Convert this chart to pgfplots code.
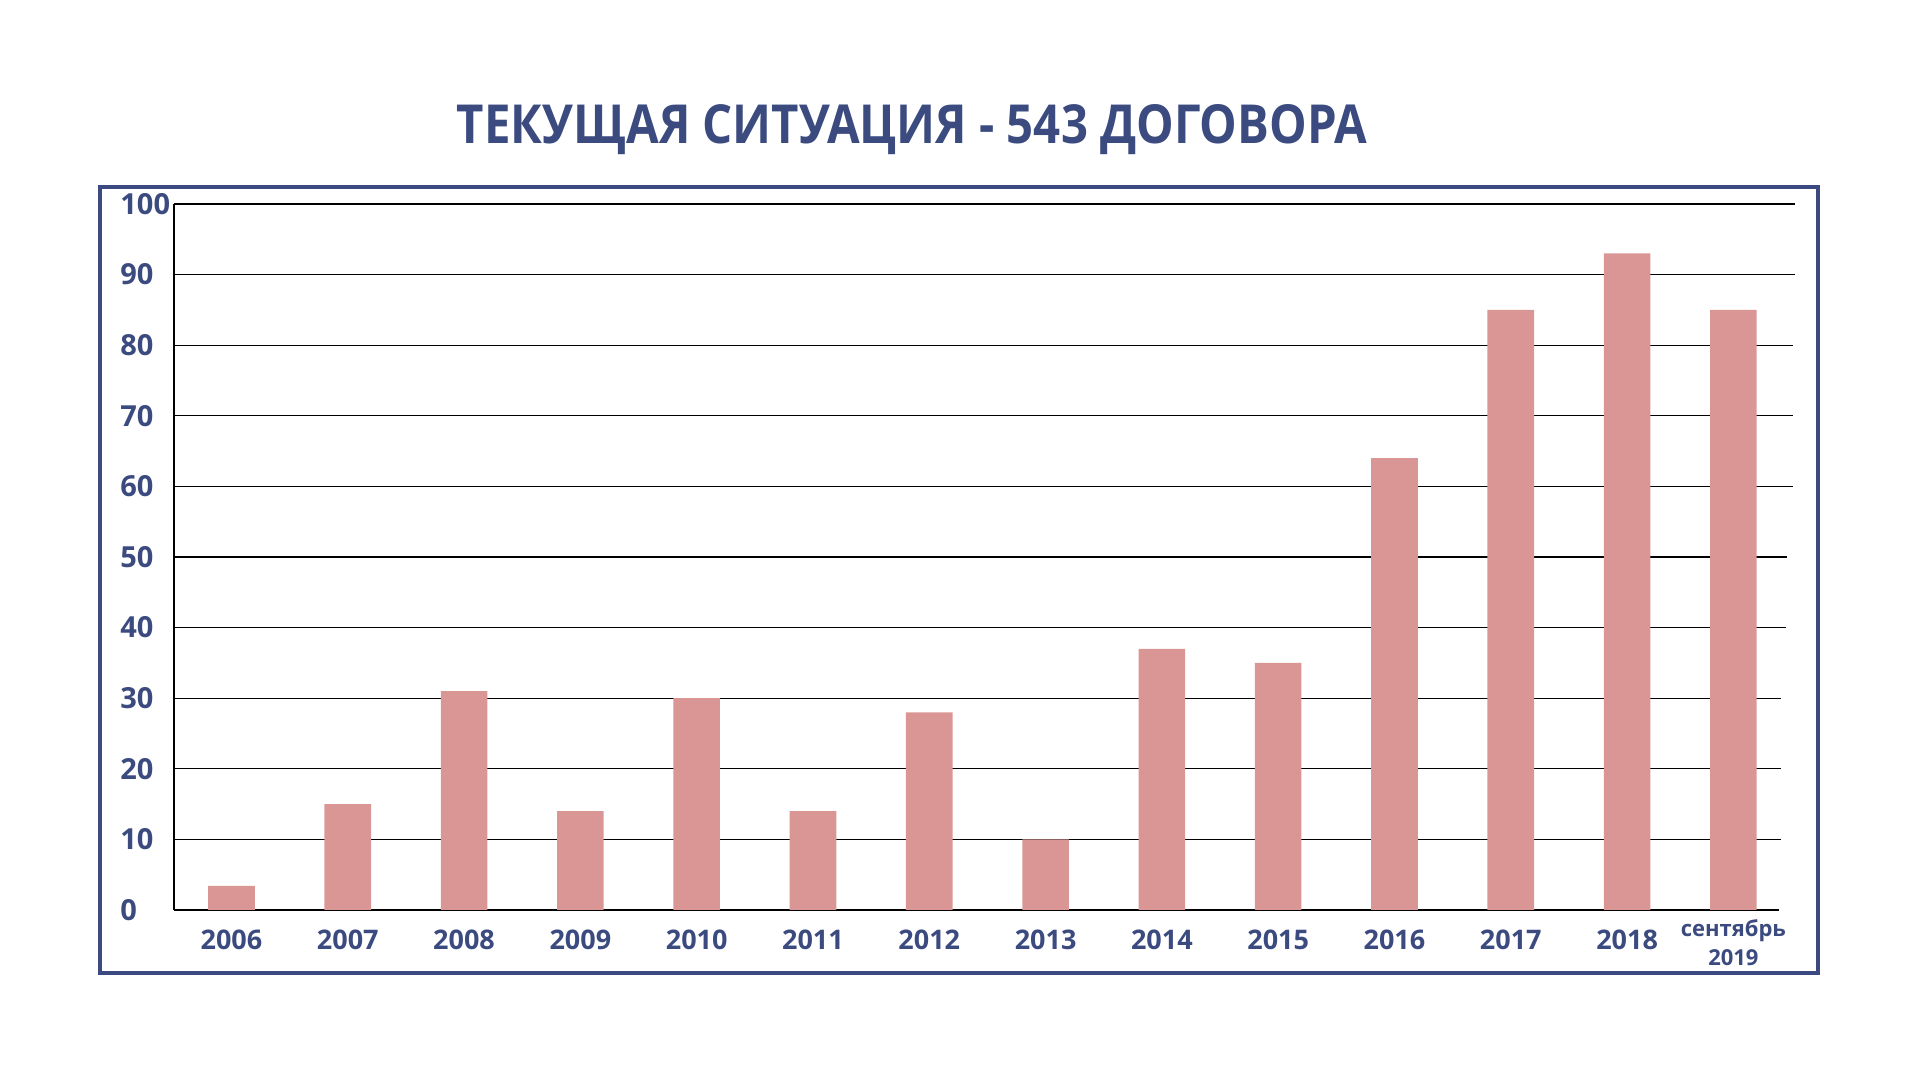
\documentclass[border=0pt]{standalone}
\usepackage{pgfplots}
\pgfplotsset{compat=1.18}
\usepackage{fontspec}
\setmainfont{Open Sans}
\definecolor{navy}{RGB}{59,74,127}
\definecolor{barpink}{RGB}{217,150,148}
\begin{document}
\begin{tikzpicture}[x=1pt,y=1pt]
\path[use as bounding box] (0,0) rectangle (960,540);
\draw[navy, line width=2pt] (50,53.5) rectangle (909,446.5);
\node[anchor=base, text=navy, inner sep=0pt] at (456,468.4) {\resizebox{455pt}{19.5pt}{\bfseries ТЕКУЩАЯ СИТУАЦИЯ - 543 ДОГОВОРА}};
\begin{axis}[at={(87pt,85pt)}, anchor=south west, scale only axis,
  width=810.5pt, height=353pt,
  xmin=-0.494, xmax=13.444, ymin=0, ymax=100,
  ybar, bar width=23.3pt,
  axis line style={draw=none},
  xtick pos=bottom, ytick pos=left,
  ytick={0,10,...,100}, xtick={0,1,2,3,4,5,6,7,8,9,10,11,12,12.914},
  major tick length=0pt,
  xticklabels={2006,2007,2008,2009,2010,2011,2012,2013,2014,2015,2016,2017,2018,{\raisebox{6.5pt}{\fontsize{11}{14.5}\selectfont\begin{tabular}[t]{@{}c@{}}сентябрь\\2019\end{tabular}}}},
  ticklabel style={text=navy},
  /pgf/number format/assume math mode=true,
  xticklabel style={font=\bfseries\fontsize{13.5}{15}\selectfont, anchor=base, yshift=-20pt},
  yticklabel style={font=\bfseries\fontsize{14.5}{16}\selectfont, anchor=west, inner xsep=0pt, xshift=-27pt},
  clip=false,
]
\draw[black, line width=0.65pt] (axis cs:-0.494,0) -- (axis cs:-0.494,100);
\draw[black, line width=0.65pt] (axis cs:-0.494,100) -- (axis cs:13.444,100);
\draw[black, line width=0.65pt] (axis cs:-0.494,90) -- (axis cs:13.444,90);
\draw[black, line width=0.65pt] (axis cs:-0.494,80) -- (axis cs:13.427,80);
\draw[black, line width=0.65pt] (axis cs:-0.494,70) -- (axis cs:13.427,70);
\draw[black, line width=0.65pt] (axis cs:-0.494,60) -- (axis cs:13.427,60);
\draw[black, line width=0.65pt] (axis cs:-0.494,50) -- (axis cs:13.375,50);
\draw[black, line width=0.65pt] (axis cs:-0.494,40) -- (axis cs:13.367,40);
\draw[black, line width=0.65pt] (axis cs:-0.494,30) -- (axis cs:13.324,30);
\draw[black, line width=0.65pt] (axis cs:-0.494,20) -- (axis cs:13.324,20);
\draw[black, line width=0.65pt] (axis cs:-0.494,10) -- (axis cs:13.324,10);
\draw[black, line width=0.65pt] (axis cs:-0.494,0) -- (axis cs:13.307,0);
\addplot[fill=barpink, draw=none] coordinates {
(0,3.4) (1,15) (2,31) (3,14) (4,30) (5,14) (6,28) (7,10) (8,37) (9,35) (10,64) (11,85) (12,93) (12.914,85)
};
\end{axis}
\end{tikzpicture}
\end{document}
